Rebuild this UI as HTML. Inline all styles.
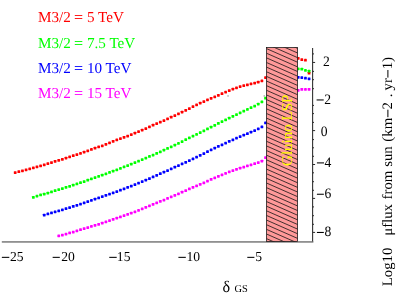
<!DOCTYPE html>
<html><head><meta charset="utf-8"><style>
html,body{margin:0;padding:0;background:#fff}
svg{display:block;will-change:transform}
text{font-family:"Liberation Serif",serif;text-rendering:geometricPrecision}
</style></head><body>
<svg width="405" height="293" viewBox="0 0 405 293">
<defs>
<clipPath id="rc"><rect x="266.5" y="47.5" width="31.1" height="194.0"/></clipPath>
</defs>
<rect width="405" height="293" fill="#fff"/>
<g font-size="15.15">
<text x="38" y="22.4" fill="#ff0000">M3/2 <tspan dx="-0.4" stroke="#ff0000" stroke-width="0.35">=</tspan><tspan dx="0.4"> 5 TeV</tspan></text>
<text x="38" y="47.5" fill="#00ff00">M3/2 <tspan dx="-0.4" stroke="#00ff00" stroke-width="0.35">=</tspan><tspan dx="0.4"> 7.5 TeV</tspan></text>
<text x="38" y="72.5" fill="#0000ff">M3/2 <tspan dx="-0.4" stroke="#0000ff" stroke-width="0.35">=</tspan><tspan dx="0.4"> 10 TeV</tspan></text>
<text x="38" y="97.5" fill="#ff00ff">M3/2 <tspan dx="-0.4" stroke="#ff00ff" stroke-width="0.35">=</tspan><tspan dx="0.4"> 15 TeV</tspan></text>
</g>
<rect x="1.8" y="241" width="311.6" height="1.8" fill="#909090"/>
<g fill="#ff0000"><rect x="13.82" y="171.29" width="2.75" height="2.75" rx="0.45"/><rect x="17.45" y="170.34" width="2.75" height="2.75" rx="0.45"/><rect x="21.08" y="169.41" width="2.75" height="2.75" rx="0.45"/><rect x="24.71" y="168.42" width="2.75" height="2.75" rx="0.45"/><rect x="28.34" y="167.45" width="2.75" height="2.75" rx="0.45"/><rect x="31.97" y="166.43" width="2.75" height="2.75" rx="0.45"/><rect x="35.59" y="165.40" width="2.75" height="2.75" rx="0.45"/><rect x="39.22" y="164.44" width="2.75" height="2.75" rx="0.45"/><rect x="42.85" y="163.42" width="2.75" height="2.75" rx="0.45"/><rect x="46.48" y="162.29" width="2.75" height="2.75" rx="0.45"/><rect x="50.11" y="161.14" width="2.75" height="2.75" rx="0.45"/><rect x="53.73" y="160.07" width="2.75" height="2.75" rx="0.45"/><rect x="57.36" y="158.97" width="2.75" height="2.75" rx="0.45"/><rect x="60.99" y="157.88" width="2.75" height="2.75" rx="0.45"/><rect x="64.62" y="156.70" width="2.75" height="2.75" rx="0.45"/><rect x="68.25" y="155.46" width="2.75" height="2.75" rx="0.45"/><rect x="71.87" y="154.33" width="2.75" height="2.75" rx="0.45"/><rect x="75.50" y="153.15" width="2.75" height="2.75" rx="0.45"/><rect x="79.13" y="152.00" width="2.75" height="2.75" rx="0.45"/><rect x="82.76" y="150.76" width="2.75" height="2.75" rx="0.45"/><rect x="86.39" y="149.40" width="2.75" height="2.75" rx="0.45"/><rect x="90.01" y="148.08" width="2.75" height="2.75" rx="0.45"/><rect x="93.64" y="146.85" width="2.75" height="2.75" rx="0.45"/><rect x="97.27" y="145.56" width="2.75" height="2.75" rx="0.45"/><rect x="100.90" y="144.46" width="2.75" height="2.75" rx="0.45"/><rect x="104.53" y="143.07" width="2.75" height="2.75" rx="0.45"/><rect x="108.15" y="141.55" width="2.75" height="2.75" rx="0.45"/><rect x="111.78" y="140.04" width="2.75" height="2.75" rx="0.45"/><rect x="115.41" y="138.53" width="2.75" height="2.75" rx="0.45"/><rect x="119.04" y="137.18" width="2.75" height="2.75" rx="0.45"/><rect x="122.67" y="136.02" width="2.75" height="2.75" rx="0.45"/><rect x="126.29" y="134.66" width="2.75" height="2.75" rx="0.45"/><rect x="129.92" y="133.19" width="2.75" height="2.75" rx="0.45"/><rect x="133.55" y="131.76" width="2.75" height="2.75" rx="0.45"/><rect x="137.18" y="130.24" width="2.75" height="2.75" rx="0.45"/><rect x="140.81" y="128.76" width="2.75" height="2.75" rx="0.45"/><rect x="144.43" y="127.19" width="2.75" height="2.75" rx="0.45"/><rect x="148.06" y="125.55" width="2.75" height="2.75" rx="0.45"/><rect x="151.69" y="123.86" width="2.75" height="2.75" rx="0.45"/><rect x="155.32" y="122.25" width="2.75" height="2.75" rx="0.45"/><rect x="158.94" y="120.67" width="2.75" height="2.75" rx="0.45"/><rect x="162.57" y="119.21" width="2.75" height="2.75" rx="0.45"/><rect x="166.20" y="117.57" width="2.75" height="2.75" rx="0.45"/><rect x="169.83" y="115.86" width="2.75" height="2.75" rx="0.45"/><rect x="173.46" y="114.15" width="2.75" height="2.75" rx="0.45"/><rect x="177.08" y="112.41" width="2.75" height="2.75" rx="0.45"/><rect x="180.71" y="110.78" width="2.75" height="2.75" rx="0.45"/><rect x="184.34" y="109.06" width="2.75" height="2.75" rx="0.45"/><rect x="187.97" y="107.18" width="2.75" height="2.75" rx="0.45"/><rect x="191.60" y="105.29" width="2.75" height="2.75" rx="0.45"/><rect x="195.22" y="103.46" width="2.75" height="2.75" rx="0.45"/><rect x="198.85" y="101.70" width="2.75" height="2.75" rx="0.45"/><rect x="202.48" y="100.15" width="2.75" height="2.75" rx="0.45"/><rect x="206.11" y="98.56" width="2.75" height="2.75" rx="0.45"/><rect x="209.74" y="97.02" width="2.75" height="2.75" rx="0.45"/><rect x="213.37" y="95.48" width="2.75" height="2.75" rx="0.45"/><rect x="216.99" y="93.93" width="2.75" height="2.75" rx="0.45"/><rect x="220.62" y="92.37" width="2.75" height="2.75" rx="0.45"/><rect x="224.25" y="90.75" width="2.75" height="2.75" rx="0.45"/><rect x="227.88" y="89.17" width="2.75" height="2.75" rx="0.45"/><rect x="231.50" y="87.77" width="2.75" height="2.75" rx="0.45"/><rect x="235.13" y="86.48" width="2.75" height="2.75" rx="0.45"/><rect x="238.76" y="85.31" width="2.75" height="2.75" rx="0.45"/><rect x="242.39" y="84.31" width="2.75" height="2.75" rx="0.45"/><rect x="246.02" y="83.38" width="2.75" height="2.75" rx="0.45"/><rect x="249.64" y="82.46" width="2.75" height="2.75" rx="0.45"/><rect x="253.27" y="81.70" width="2.75" height="2.75" rx="0.45"/><rect x="256.90" y="80.81" width="2.75" height="2.75" rx="0.45"/><rect x="260.53" y="79.53" width="2.75" height="2.75" rx="0.45"/><rect x="264.16" y="76.22" width="2.75" height="2.75" rx="0.45"/><rect x="296.81" y="56.92" width="2.75" height="2.75" rx="0.45"/><rect x="300.44" y="58.33" width="2.75" height="2.75" rx="0.45"/><rect x="304.06" y="58.83" width="2.75" height="2.75" rx="0.45"/><rect x="307.69" y="71.83" width="2.75" height="2.75" rx="0.45"/></g>
<g fill="#00ff00"><rect x="31.97" y="195.95" width="2.75" height="2.75" rx="0.45"/><rect x="35.59" y="194.65" width="2.75" height="2.75" rx="0.45"/><rect x="39.22" y="193.62" width="2.75" height="2.75" rx="0.45"/><rect x="42.85" y="192.69" width="2.75" height="2.75" rx="0.45"/><rect x="46.48" y="191.70" width="2.75" height="2.75" rx="0.45"/><rect x="50.11" y="190.62" width="2.75" height="2.75" rx="0.45"/><rect x="53.73" y="189.36" width="2.75" height="2.75" rx="0.45"/><rect x="57.36" y="188.19" width="2.75" height="2.75" rx="0.45"/><rect x="60.99" y="187.13" width="2.75" height="2.75" rx="0.45"/><rect x="64.62" y="186.06" width="2.75" height="2.75" rx="0.45"/><rect x="68.25" y="184.92" width="2.75" height="2.75" rx="0.45"/><rect x="71.87" y="183.80" width="2.75" height="2.75" rx="0.45"/><rect x="75.50" y="182.60" width="2.75" height="2.75" rx="0.45"/><rect x="79.13" y="181.37" width="2.75" height="2.75" rx="0.45"/><rect x="82.76" y="180.21" width="2.75" height="2.75" rx="0.45"/><rect x="86.39" y="178.84" width="2.75" height="2.75" rx="0.45"/><rect x="90.01" y="177.54" width="2.75" height="2.75" rx="0.45"/><rect x="93.64" y="176.29" width="2.75" height="2.75" rx="0.45"/><rect x="97.27" y="175.00" width="2.75" height="2.75" rx="0.45"/><rect x="100.90" y="173.70" width="2.75" height="2.75" rx="0.45"/><rect x="104.53" y="172.43" width="2.75" height="2.75" rx="0.45"/><rect x="108.15" y="171.10" width="2.75" height="2.75" rx="0.45"/><rect x="111.78" y="169.77" width="2.75" height="2.75" rx="0.45"/><rect x="115.41" y="168.43" width="2.75" height="2.75" rx="0.45"/><rect x="119.04" y="166.97" width="2.75" height="2.75" rx="0.45"/><rect x="122.67" y="165.55" width="2.75" height="2.75" rx="0.45"/><rect x="126.29" y="164.15" width="2.75" height="2.75" rx="0.45"/><rect x="129.92" y="162.76" width="2.75" height="2.75" rx="0.45"/><rect x="133.55" y="161.30" width="2.75" height="2.75" rx="0.45"/><rect x="137.18" y="159.85" width="2.75" height="2.75" rx="0.45"/><rect x="140.81" y="158.22" width="2.75" height="2.75" rx="0.45"/><rect x="144.43" y="156.65" width="2.75" height="2.75" rx="0.45"/><rect x="148.06" y="155.12" width="2.75" height="2.75" rx="0.45"/><rect x="151.69" y="153.63" width="2.75" height="2.75" rx="0.45"/><rect x="155.32" y="152.08" width="2.75" height="2.75" rx="0.45"/><rect x="158.94" y="150.52" width="2.75" height="2.75" rx="0.45"/><rect x="162.57" y="148.77" width="2.75" height="2.75" rx="0.45"/><rect x="166.20" y="147.09" width="2.75" height="2.75" rx="0.45"/><rect x="169.83" y="145.44" width="2.75" height="2.75" rx="0.45"/><rect x="173.46" y="143.82" width="2.75" height="2.75" rx="0.45"/><rect x="177.08" y="142.02" width="2.75" height="2.75" rx="0.45"/><rect x="180.71" y="140.20" width="2.75" height="2.75" rx="0.45"/><rect x="184.34" y="138.31" width="2.75" height="2.75" rx="0.45"/><rect x="187.97" y="136.44" width="2.75" height="2.75" rx="0.45"/><rect x="191.60" y="134.66" width="2.75" height="2.75" rx="0.45"/><rect x="195.22" y="132.95" width="2.75" height="2.75" rx="0.45"/><rect x="198.85" y="131.15" width="2.75" height="2.75" rx="0.45"/><rect x="202.48" y="129.39" width="2.75" height="2.75" rx="0.45"/><rect x="206.11" y="127.61" width="2.75" height="2.75" rx="0.45"/><rect x="209.74" y="125.77" width="2.75" height="2.75" rx="0.45"/><rect x="213.37" y="123.94" width="2.75" height="2.75" rx="0.45"/><rect x="216.99" y="122.09" width="2.75" height="2.75" rx="0.45"/><rect x="220.62" y="120.27" width="2.75" height="2.75" rx="0.45"/><rect x="224.25" y="118.48" width="2.75" height="2.75" rx="0.45"/><rect x="227.88" y="116.73" width="2.75" height="2.75" rx="0.45"/><rect x="231.50" y="114.96" width="2.75" height="2.75" rx="0.45"/><rect x="235.13" y="113.19" width="2.75" height="2.75" rx="0.45"/><rect x="238.76" y="111.39" width="2.75" height="2.75" rx="0.45"/><rect x="242.39" y="109.65" width="2.75" height="2.75" rx="0.45"/><rect x="246.02" y="108.02" width="2.75" height="2.75" rx="0.45"/><rect x="249.64" y="106.36" width="2.75" height="2.75" rx="0.45"/><rect x="253.27" y="104.63" width="2.75" height="2.75" rx="0.45"/><rect x="256.90" y="102.76" width="2.75" height="2.75" rx="0.45"/><rect x="260.53" y="100.53" width="2.75" height="2.75" rx="0.45"/><rect x="264.16" y="96.83" width="2.75" height="2.75" rx="0.45"/><rect x="296.81" y="67.53" width="2.75" height="2.75" rx="0.45"/><rect x="300.44" y="67.83" width="2.75" height="2.75" rx="0.45"/><rect x="304.06" y="69.03" width="2.75" height="2.75" rx="0.45"/><rect x="307.69" y="69.83" width="2.75" height="2.75" rx="0.45"/></g>
<g fill="#0000ff"><rect x="42.85" y="213.76" width="2.75" height="2.75" rx="0.45"/><rect x="46.48" y="212.62" width="2.75" height="2.75" rx="0.45"/><rect x="50.11" y="211.61" width="2.75" height="2.75" rx="0.45"/><rect x="53.73" y="210.56" width="2.75" height="2.75" rx="0.45"/><rect x="57.36" y="209.53" width="2.75" height="2.75" rx="0.45"/><rect x="60.99" y="208.49" width="2.75" height="2.75" rx="0.45"/><rect x="64.62" y="207.32" width="2.75" height="2.75" rx="0.45"/><rect x="68.25" y="206.18" width="2.75" height="2.75" rx="0.45"/><rect x="71.87" y="205.12" width="2.75" height="2.75" rx="0.45"/><rect x="75.50" y="203.92" width="2.75" height="2.75" rx="0.45"/><rect x="79.13" y="202.74" width="2.75" height="2.75" rx="0.45"/><rect x="82.76" y="201.49" width="2.75" height="2.75" rx="0.45"/><rect x="86.39" y="200.23" width="2.75" height="2.75" rx="0.45"/><rect x="90.01" y="199.00" width="2.75" height="2.75" rx="0.45"/><rect x="93.64" y="197.81" width="2.75" height="2.75" rx="0.45"/><rect x="97.27" y="196.58" width="2.75" height="2.75" rx="0.45"/><rect x="100.90" y="195.30" width="2.75" height="2.75" rx="0.45"/><rect x="104.53" y="194.05" width="2.75" height="2.75" rx="0.45"/><rect x="108.15" y="192.78" width="2.75" height="2.75" rx="0.45"/><rect x="111.78" y="191.51" width="2.75" height="2.75" rx="0.45"/><rect x="115.41" y="190.18" width="2.75" height="2.75" rx="0.45"/><rect x="119.04" y="188.84" width="2.75" height="2.75" rx="0.45"/><rect x="122.67" y="187.40" width="2.75" height="2.75" rx="0.45"/><rect x="126.29" y="186.02" width="2.75" height="2.75" rx="0.45"/><rect x="129.92" y="184.65" width="2.75" height="2.75" rx="0.45"/><rect x="133.55" y="183.28" width="2.75" height="2.75" rx="0.45"/><rect x="137.18" y="181.82" width="2.75" height="2.75" rx="0.45"/><rect x="140.81" y="180.28" width="2.75" height="2.75" rx="0.45"/><rect x="144.43" y="178.76" width="2.75" height="2.75" rx="0.45"/><rect x="148.06" y="177.14" width="2.75" height="2.75" rx="0.45"/><rect x="151.69" y="175.59" width="2.75" height="2.75" rx="0.45"/><rect x="155.32" y="173.99" width="2.75" height="2.75" rx="0.45"/><rect x="158.94" y="172.37" width="2.75" height="2.75" rx="0.45"/><rect x="162.57" y="170.74" width="2.75" height="2.75" rx="0.45"/><rect x="166.20" y="169.24" width="2.75" height="2.75" rx="0.45"/><rect x="169.83" y="167.53" width="2.75" height="2.75" rx="0.45"/><rect x="173.46" y="165.86" width="2.75" height="2.75" rx="0.45"/><rect x="177.08" y="164.22" width="2.75" height="2.75" rx="0.45"/><rect x="180.71" y="162.52" width="2.75" height="2.75" rx="0.45"/><rect x="184.34" y="160.88" width="2.75" height="2.75" rx="0.45"/><rect x="187.97" y="159.30" width="2.75" height="2.75" rx="0.45"/><rect x="191.60" y="157.55" width="2.75" height="2.75" rx="0.45"/><rect x="195.22" y="155.75" width="2.75" height="2.75" rx="0.45"/><rect x="198.85" y="154.02" width="2.75" height="2.75" rx="0.45"/><rect x="202.48" y="152.13" width="2.75" height="2.75" rx="0.45"/><rect x="206.11" y="150.34" width="2.75" height="2.75" rx="0.45"/><rect x="209.74" y="148.57" width="2.75" height="2.75" rx="0.45"/><rect x="213.37" y="146.78" width="2.75" height="2.75" rx="0.45"/><rect x="216.99" y="145.06" width="2.75" height="2.75" rx="0.45"/><rect x="220.62" y="143.40" width="2.75" height="2.75" rx="0.45"/><rect x="224.25" y="141.70" width="2.75" height="2.75" rx="0.45"/><rect x="227.88" y="140.06" width="2.75" height="2.75" rx="0.45"/><rect x="231.50" y="138.40" width="2.75" height="2.75" rx="0.45"/><rect x="235.13" y="136.75" width="2.75" height="2.75" rx="0.45"/><rect x="238.76" y="135.23" width="2.75" height="2.75" rx="0.45"/><rect x="242.39" y="133.81" width="2.75" height="2.75" rx="0.45"/><rect x="246.02" y="132.33" width="2.75" height="2.75" rx="0.45"/><rect x="249.64" y="130.82" width="2.75" height="2.75" rx="0.45"/><rect x="253.27" y="129.22" width="2.75" height="2.75" rx="0.45"/><rect x="256.90" y="127.53" width="2.75" height="2.75" rx="0.45"/><rect x="260.53" y="125.62" width="2.75" height="2.75" rx="0.45"/><rect x="264.16" y="121.62" width="2.75" height="2.75" rx="0.45"/><rect x="296.81" y="76.03" width="2.75" height="2.75" rx="0.45"/><rect x="300.44" y="76.22" width="2.75" height="2.75" rx="0.45"/><rect x="304.06" y="76.83" width="2.75" height="2.75" rx="0.45"/><rect x="307.69" y="77.42" width="2.75" height="2.75" rx="0.45"/></g>
<g fill="#ff00ff"><rect x="57.36" y="234.57" width="2.75" height="2.75" rx="0.45"/><rect x="60.99" y="233.66" width="2.75" height="2.75" rx="0.45"/><rect x="64.62" y="232.67" width="2.75" height="2.75" rx="0.45"/><rect x="68.25" y="231.61" width="2.75" height="2.75" rx="0.45"/><rect x="71.87" y="230.65" width="2.75" height="2.75" rx="0.45"/><rect x="75.50" y="229.48" width="2.75" height="2.75" rx="0.45"/><rect x="79.13" y="228.33" width="2.75" height="2.75" rx="0.45"/><rect x="82.76" y="227.23" width="2.75" height="2.75" rx="0.45"/><rect x="86.39" y="226.14" width="2.75" height="2.75" rx="0.45"/><rect x="90.01" y="225.01" width="2.75" height="2.75" rx="0.45"/><rect x="93.64" y="223.97" width="2.75" height="2.75" rx="0.45"/><rect x="97.27" y="222.92" width="2.75" height="2.75" rx="0.45"/><rect x="100.90" y="221.70" width="2.75" height="2.75" rx="0.45"/><rect x="104.53" y="220.47" width="2.75" height="2.75" rx="0.45"/><rect x="108.15" y="219.26" width="2.75" height="2.75" rx="0.45"/><rect x="111.78" y="218.04" width="2.75" height="2.75" rx="0.45"/><rect x="115.41" y="216.76" width="2.75" height="2.75" rx="0.45"/><rect x="119.04" y="215.62" width="2.75" height="2.75" rx="0.45"/><rect x="122.67" y="214.31" width="2.75" height="2.75" rx="0.45"/><rect x="126.29" y="212.99" width="2.75" height="2.75" rx="0.45"/><rect x="129.92" y="211.70" width="2.75" height="2.75" rx="0.45"/><rect x="133.55" y="210.43" width="2.75" height="2.75" rx="0.45"/><rect x="137.18" y="208.99" width="2.75" height="2.75" rx="0.45"/><rect x="140.81" y="207.54" width="2.75" height="2.75" rx="0.45"/><rect x="144.43" y="205.99" width="2.75" height="2.75" rx="0.45"/><rect x="148.06" y="204.45" width="2.75" height="2.75" rx="0.45"/><rect x="151.69" y="202.95" width="2.75" height="2.75" rx="0.45"/><rect x="155.32" y="201.55" width="2.75" height="2.75" rx="0.45"/><rect x="158.94" y="200.06" width="2.75" height="2.75" rx="0.45"/><rect x="162.57" y="198.64" width="2.75" height="2.75" rx="0.45"/><rect x="166.20" y="197.07" width="2.75" height="2.75" rx="0.45"/><rect x="169.83" y="195.53" width="2.75" height="2.75" rx="0.45"/><rect x="173.46" y="194.01" width="2.75" height="2.75" rx="0.45"/><rect x="177.08" y="192.49" width="2.75" height="2.75" rx="0.45"/><rect x="180.71" y="190.87" width="2.75" height="2.75" rx="0.45"/><rect x="184.34" y="189.29" width="2.75" height="2.75" rx="0.45"/><rect x="187.97" y="187.59" width="2.75" height="2.75" rx="0.45"/><rect x="191.60" y="186.01" width="2.75" height="2.75" rx="0.45"/><rect x="195.22" y="184.52" width="2.75" height="2.75" rx="0.45"/><rect x="198.85" y="183.00" width="2.75" height="2.75" rx="0.45"/><rect x="202.48" y="181.42" width="2.75" height="2.75" rx="0.45"/><rect x="206.11" y="179.75" width="2.75" height="2.75" rx="0.45"/><rect x="209.74" y="178.11" width="2.75" height="2.75" rx="0.45"/><rect x="213.37" y="176.46" width="2.75" height="2.75" rx="0.45"/><rect x="216.99" y="174.92" width="2.75" height="2.75" rx="0.45"/><rect x="220.62" y="173.44" width="2.75" height="2.75" rx="0.45"/><rect x="224.25" y="171.94" width="2.75" height="2.75" rx="0.45"/><rect x="227.88" y="170.50" width="2.75" height="2.75" rx="0.45"/><rect x="231.50" y="169.20" width="2.75" height="2.75" rx="0.45"/><rect x="235.13" y="167.92" width="2.75" height="2.75" rx="0.45"/><rect x="238.76" y="166.80" width="2.75" height="2.75" rx="0.45"/><rect x="242.39" y="165.67" width="2.75" height="2.75" rx="0.45"/><rect x="246.02" y="164.57" width="2.75" height="2.75" rx="0.45"/><rect x="249.64" y="163.45" width="2.75" height="2.75" rx="0.45"/><rect x="253.27" y="162.34" width="2.75" height="2.75" rx="0.45"/><rect x="256.90" y="161.16" width="2.75" height="2.75" rx="0.45"/><rect x="260.53" y="159.68" width="2.75" height="2.75" rx="0.45"/><rect x="264.16" y="156.22" width="2.75" height="2.75" rx="0.45"/><rect x="296.81" y="88.92" width="2.75" height="2.75" rx="0.45"/><rect x="300.44" y="88.12" width="2.75" height="2.75" rx="0.45"/><rect x="304.06" y="88.03" width="2.75" height="2.75" rx="0.45"/><rect x="307.69" y="88.03" width="2.75" height="2.75" rx="0.45"/></g>
<rect x="266.5" y="47.5" width="31.1" height="194.0" fill="#ff9999"/>
<g clip-path="url(#rc)" stroke="#141414" stroke-width="0.8"><line x1="266.5" y1="30.06" x2="297.6" y2="43.74"/><line x1="266.5" y1="34.70" x2="297.6" y2="48.38"/><line x1="266.5" y1="39.33" x2="297.6" y2="53.01"/><line x1="266.5" y1="43.97" x2="297.6" y2="57.65"/><line x1="266.5" y1="48.60" x2="297.6" y2="62.28"/><line x1="266.5" y1="53.23" x2="297.6" y2="66.92"/><line x1="266.5" y1="57.87" x2="297.6" y2="71.55"/><line x1="266.5" y1="62.51" x2="297.6" y2="76.19"/><line x1="266.5" y1="67.14" x2="297.6" y2="80.82"/><line x1="266.5" y1="71.78" x2="297.6" y2="85.46"/><line x1="266.5" y1="76.41" x2="297.6" y2="90.09"/><line x1="266.5" y1="81.05" x2="297.6" y2="94.73"/><line x1="266.5" y1="85.68" x2="297.6" y2="99.36"/><line x1="266.5" y1="90.31" x2="297.6" y2="104.00"/><line x1="266.5" y1="94.95" x2="297.6" y2="108.63"/><line x1="266.5" y1="99.59" x2="297.6" y2="113.27"/><line x1="266.5" y1="104.22" x2="297.6" y2="117.90"/><line x1="266.5" y1="108.85" x2="297.6" y2="122.54"/><line x1="266.5" y1="113.49" x2="297.6" y2="127.17"/><line x1="266.5" y1="118.12" x2="297.6" y2="131.81"/><line x1="266.5" y1="122.76" x2="297.6" y2="136.44"/><line x1="266.5" y1="127.40" x2="297.6" y2="141.08"/><line x1="266.5" y1="132.03" x2="297.6" y2="145.71"/><line x1="266.5" y1="136.66" x2="297.6" y2="150.35"/><line x1="266.5" y1="141.30" x2="297.6" y2="154.98"/><line x1="266.5" y1="145.94" x2="297.6" y2="159.62"/><line x1="266.5" y1="150.57" x2="297.6" y2="164.25"/><line x1="266.5" y1="155.20" x2="297.6" y2="168.89"/><line x1="266.5" y1="159.84" x2="297.6" y2="173.52"/><line x1="266.5" y1="164.47" x2="297.6" y2="178.16"/><line x1="266.5" y1="169.11" x2="297.6" y2="182.79"/><line x1="266.5" y1="173.75" x2="297.6" y2="187.43"/><line x1="266.5" y1="178.38" x2="297.6" y2="192.06"/><line x1="266.5" y1="183.01" x2="297.6" y2="196.70"/><line x1="266.5" y1="187.65" x2="297.6" y2="201.33"/><line x1="266.5" y1="192.28" x2="297.6" y2="205.97"/><line x1="266.5" y1="196.92" x2="297.6" y2="210.60"/><line x1="266.5" y1="201.55" x2="297.6" y2="215.24"/><line x1="266.5" y1="206.19" x2="297.6" y2="219.87"/><line x1="266.5" y1="210.82" x2="297.6" y2="224.51"/><line x1="266.5" y1="215.46" x2="297.6" y2="229.14"/><line x1="266.5" y1="220.09" x2="297.6" y2="233.78"/><line x1="266.5" y1="224.73" x2="297.6" y2="238.41"/><line x1="266.5" y1="229.36" x2="297.6" y2="243.05"/><line x1="266.5" y1="234.00" x2="297.6" y2="247.68"/><line x1="266.5" y1="238.63" x2="297.6" y2="252.32"/><line x1="266.5" y1="243.27" x2="297.6" y2="256.95"/></g>
<rect x="266.5" y="47.5" width="31.1" height="194.0" fill="none" stroke="#111" stroke-width="0.75"/>
<text transform="translate(291.8 165.9) rotate(-90)" font-size="15" fill="#ffff00">Gluino LSP</text>
<line x1="312.6" x2="312.6" y1="48" y2="241.5" stroke="#333" stroke-width="1.1"/>
<g stroke="#2a2a2a" stroke-width="1.0"><line x1="312.6" x2="314.0" y1="53.90" y2="53.90"/><line x1="312.6" x2="315.1" y1="62.45" y2="62.45"/><line x1="312.6" x2="314.0" y1="71.40" y2="71.40"/><line x1="312.6" x2="314.0" y1="79.70" y2="79.70"/><line x1="312.6" x2="314.0" y1="88.70" y2="88.70"/><line x1="312.6" x2="314.0" y1="105.40" y2="105.40"/><line x1="312.6" x2="314.0" y1="113.60" y2="113.60"/><line x1="312.6" x2="314.0" y1="122.40" y2="122.40"/><line x1="312.6" x2="315.1" y1="130.60" y2="130.60"/><line x1="312.6" x2="314.0" y1="139.60" y2="139.60"/><line x1="312.6" x2="314.0" y1="147.80" y2="147.80"/><line x1="312.6" x2="314.0" y1="156.30" y2="156.30"/><line x1="312.6" x2="315.1" y1="164.50" y2="164.50"/><line x1="312.6" x2="314.0" y1="172.80" y2="172.80"/><line x1="312.6" x2="314.0" y1="181.70" y2="181.70"/><line x1="312.6" x2="314.0" y1="190.30" y2="190.30"/><line x1="312.6" x2="315.1" y1="198.40" y2="198.40"/><line x1="312.6" x2="314.0" y1="206.90" y2="206.90"/><line x1="312.6" x2="314.0" y1="215.70" y2="215.70"/><line x1="312.6" x2="314.0" y1="224.30" y2="224.30"/><line x1="312.6" x2="315.1" y1="232.40" y2="232.40"/></g>
<rect x="227.4" y="95.3" width="1.3" height="1.3" fill="#999"/>
<rect x="263.6" y="95.3" width="1.3" height="1.3" fill="#999"/>
<g font-size="13.6" fill="#000">
<line x1="1.85" x2="9.3" y1="257.35" y2="257.35" stroke="#000" stroke-width="1.05"/><text transform="translate(23.65 261.3) scale(1 1.0)" text-anchor="end">25</text>
<line x1="52.65" x2="59.8" y1="257.35" y2="257.35" stroke="#000" stroke-width="1.05"/><text transform="translate(74.85 261.3) scale(1 1.0)" text-anchor="end">20</text>
<line x1="109.25" x2="116.7" y1="257.35" y2="257.35" stroke="#000" stroke-width="1.05"/><text transform="translate(130.45 261.3) scale(1 1.0)" text-anchor="end">15</text>
<line x1="178.4" x2="185.8" y1="257.35" y2="257.35" stroke="#000" stroke-width="1.05"/><text transform="translate(200.05 261.3) scale(1 1.0)" text-anchor="end">10</text>
<line x1="247.3" x2="254.4" y1="257.35" y2="257.35" stroke="#000" stroke-width="1.05"/><text transform="translate(261.95 261.3) scale(1 1.0)" text-anchor="end">5</text>
<text transform="translate(329.85 65.8) scale(1 1.06)" text-anchor="end">2</text>
<line x1="316.6" x2="323.7" y1="99.95" y2="99.95" stroke="#000" stroke-width="1.05"/><text transform="translate(331.15 103.9) scale(1 1.06)" text-anchor="end">2</text>
<text transform="translate(327.45 135.7) scale(1 1.06)" text-anchor="end">0</text>
<line x1="316.9" x2="324.0" y1="162.90" y2="162.90" stroke="#000" stroke-width="1.05"/><text transform="translate(331.20 166.85) scale(1 1.06)" text-anchor="end">4</text>
<line x1="316.9" x2="323.85" y1="194.25" y2="194.25" stroke="#000" stroke-width="1.05"/><text transform="translate(331.20 198.2) scale(1 1.06)" text-anchor="end">6</text>
<line x1="316.9" x2="323.85" y1="232.45" y2="232.45" stroke="#000" stroke-width="1.05"/><text transform="translate(331.20 236.4) scale(1 1.06)" text-anchor="end">8</text>
</g>
<text x="222.6" y="292.3" font-size="16.2" fill="#000">δ</text>
<text x="234.6" y="292.2" font-size="10.4" fill="#000">GS</text>
<text transform="translate(391.8 286.3) rotate(-90) scale(1 0.97)" font-size="14.8" fill="#000">Log10</text>
<text transform="translate(391.8 235.8) rotate(-90) scale(1 0.97)" font-size="14.8" fill="#000">μflux</text>
<text transform="translate(391.8 199.4) rotate(-90) scale(1 0.97)" font-size="14.8" fill="#000">from</text>
<text transform="translate(391.8 166.85) rotate(-90) scale(1 0.97)" font-size="14.8" fill="#000">sun</text>
<text transform="translate(391.8 141.7) rotate(-90) scale(1 0.97)" font-size="14.8" fill="#000">(km</text>
<line x1="387.90000000000003" x2="387.90000000000003" y1="117.2" y2="109.7" stroke="#000" stroke-width="1.0"/>
<text transform="translate(391.8 109.45) rotate(-90) scale(1 0.97)" font-size="14.8" fill="#000">2</text>
<text transform="translate(391.8 97.3) rotate(-90) scale(1 0.97)" font-size="14.8" fill="#000">.</text>
<text transform="translate(391.8 90.45) rotate(-90) scale(1 0.97)" font-size="14.8" fill="#000">yr</text>
<line x1="387.90000000000003" x2="387.90000000000003" y1="77.6" y2="70.0" stroke="#000" stroke-width="1.0"/>
<text transform="translate(391.8 69.3) rotate(-90) scale(1 0.97)" font-size="14.8" fill="#000">1)</text>
</svg>
</body></html>
